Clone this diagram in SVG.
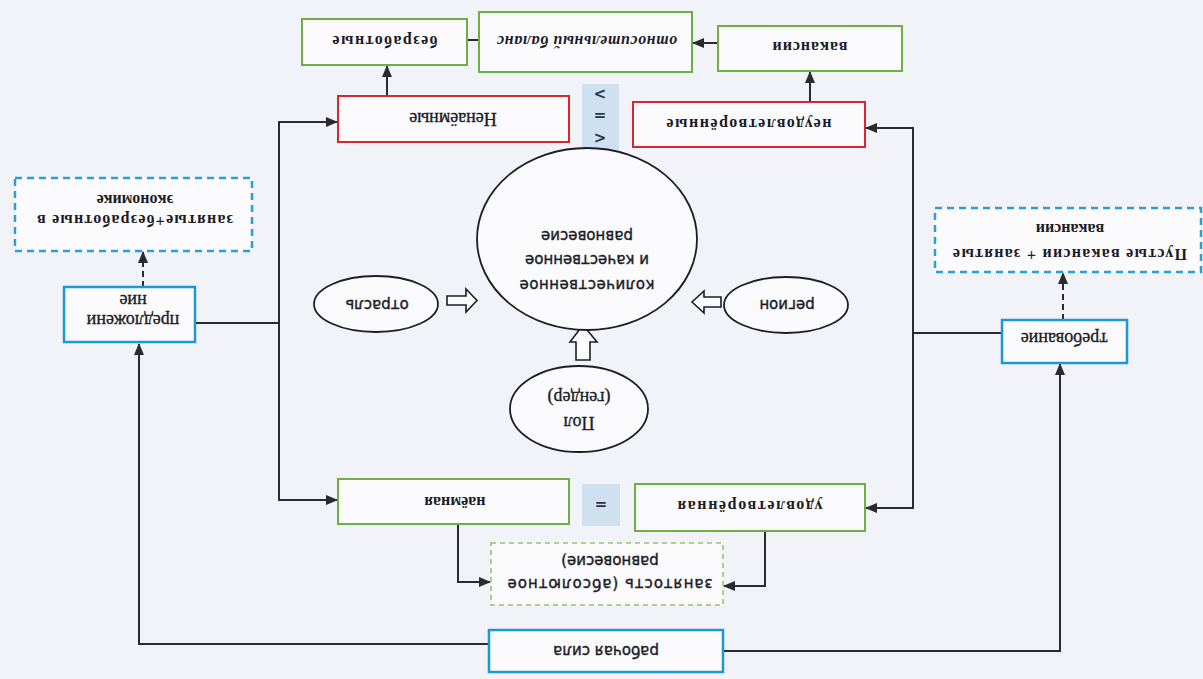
<svg xmlns="http://www.w3.org/2000/svg" width="1203" height="679" viewBox="0 0 1203 679">
<style>
.bg{fill:#f2f3f8}
.box{fill:#fbfbfd}
.g{stroke:#6fae45;stroke-width:2}
.r{stroke:#d8262e;stroke-width:2}
.b{stroke:#1b98d5;stroke-width:2.5}
.bd{stroke:#2a9fd6;stroke-width:2.5;stroke-dasharray:7 5}
.gd{stroke:#9cc26b;stroke-width:1.6;stroke-dasharray:5 4}
.el{fill:#fbfbfd;stroke:#1d1d26;stroke-width:1.8}
.band{fill:#cfe0f0}
.hollow{fill:#fbfbfd;stroke:#1d1d26;stroke-width:1.6;stroke-linejoin:miter}
.c{fill:none;stroke:#2a2a33;stroke-width:2}
.cd{fill:none;stroke:#2a2a33;stroke-width:2;stroke-dasharray:6 4}
text{fill:#1c1c28;text-anchor:middle;dominant-baseline:central}
.sb{font-family:"Liberation Serif",serif;font-weight:bold;font-size:16px}
.sr{font-family:"Liberation Serif",serif;font-size:18px;stroke:#1c1c28;stroke-width:0.35}
.si{font-family:"Liberation Serif",serif;font-weight:bold;font-style:italic;font-size:16px}
.ss{font-family:"DejaVu Sans",sans-serif;font-size:15px;stroke:#1c1c28;stroke-width:0.4}
.sym{font-family:"DejaVu Sans",sans-serif;font-weight:bold;font-size:15px;fill:#2b3444}
</style>
<defs>
<marker id="ah" markerUnits="userSpaceOnUse" markerWidth="12" markerHeight="10" refX="11" refY="5" orient="auto">
<path d="M0,0 L12,5 L0,10 Z" fill="#2a2a33"/>
</marker>
</defs>
<rect class="bg" x="0" y="0" width="1203" height="679"/>

<g id="connectors">
<line class="c" x1="467" y1="40" x2="492" y2="40" marker-end="url(#ah)"/>
<line class="c" x1="718" y1="43" x2="693" y2="43" marker-end="url(#ah)"/>
<line class="c" x1="387" y1="96" x2="387" y2="66" marker-end="url(#ah)"/>
<line class="c" x1="810" y1="102" x2="810" y2="72" marker-end="url(#ah)"/>
<line class="c" x1="195" y1="323" x2="279" y2="323"/>
<path class="c" d="M279,323 V122 H337" marker-end="url(#ah)"/>
<path class="c" d="M279,323 V500 H337" marker-end="url(#ah)"/>
<line class="c" x1="1002" y1="333" x2="913" y2="333"/>
<path class="c" d="M913,333 V128 H866" marker-end="url(#ah)"/>
<path class="c" d="M913,333 V508 H866" marker-end="url(#ah)"/>
<line class="cd" x1="143" y1="287" x2="143" y2="252" marker-end="url(#ah)"/>
<line class="cd" x1="1063" y1="320" x2="1063" y2="273" marker-end="url(#ah)"/>
<path class="c" d="M489,644 H139 V344" marker-end="url(#ah)"/>
<path class="c" d="M723,651 H1060 V364" marker-end="url(#ah)"/>
<path class="c" d="M458,524 V582 H490" marker-end="url(#ah)"/>
<path class="c" d="M765,531 V586 H724" marker-end="url(#ah)"/>
<polygon class="hollow" points="447,296 466,296 466,289 477,300.5 466,312 466,305 447,305"/>
<polygon class="hollow" points="721,297 704,297 704,291 692,302 704,313 704,307 721,307"/>
<polygon class="hollow" points="576,360 576,342 570,342 583,325 597,342 590,342 590,360"/>
</g>

<g id="bezrabotnye">
<rect class="box g" x="302" y="19" width="165" height="46"/>
<text class="sb" x="385" y="41" transform="rotate(180 385 41)" textLength="105">безработные</text>
</g>
<g id="balance">
<rect class="box g" x="479" y="12" width="213" height="60"/>
<text class="si" x="587" y="41" transform="rotate(180 587 41)" textLength="180">относительный баланс</text>
</g>
<g id="vakansii">
<rect class="box g" x="718" y="26" width="184" height="45"/>
<text class="sb" x="810" y="47" transform="rotate(180 810 47)" textLength="75">вакансии</text>
</g>
<g id="nenaemnye">
<rect class="box r" x="338" y="96" width="231" height="46"/>
<text class="sr" x="453" y="119" transform="rotate(180 453 119)">Ненаёмные</text>
</g>
<g id="compare-top">
<rect class="band" x="582" y="84" width="37" height="66"/>
<g transform="rotate(180 600 116)">
<text class="sym" x="600" y="94">&lt;</text>
<text class="sym" x="600" y="116">=</text>
<text class="sym" x="600" y="138">&gt;</text>
</g>
</g>
<g id="neudovl">
<rect class="box r" x="633" y="102" width="232" height="45"/>
<text class="sb" x="749" y="124" transform="rotate(180 749 124)" textLength="165">неудовлетворённые</text>
</g>
<g id="predlozhenie">
<rect class="box b" x="64" y="287" width="131" height="55"/>
<g transform="rotate(180 133 311)">
<text class="sr" x="133" y="301">предложени</text>
<text class="sr" x="133" y="321">ние</text>
</g>
</g>
<g id="zanyatye-bezrabotnye">
<rect class="box bd" x="15" y="178" width="237" height="73"/>
<g transform="rotate(180 135 210)">
<text class="sb" x="135" y="200" textLength="196">занятые+безработные в</text>
<text class="sb" x="135" y="220">экономике</text>
</g>
</g>
<g id="trebovanie">
<rect class="box b" x="1002" y="320" width="125" height="43"/>
<text class="sr" x="1064" y="339" transform="rotate(180 1064 339)">требование</text>
</g>
<g id="pustye">
<rect class="box bd" x="935" y="208" width="266" height="64"/>
<g transform="rotate(180 1070 242)">
<text class="sb" x="1070" y="229.5" textLength="234">Пустые вакансии + занятые</text>
<text class="sb" x="1070" y="254.5">вакансии</text>
</g>
</g>
<g id="ravnovesie">
<ellipse class="el" cx="587" cy="239" rx="110" ry="91"/>
<g transform="rotate(180 587 260)">
<text class="ss" x="587" y="235.5" textLength="135">количественное</text>
<text class="ss" x="587" y="260">и качественное</text>
<text class="ss" x="587" y="284.5">равновесие</text>
</g>
</g>
<g id="otrasl">
<ellipse class="el" cx="376" cy="304" rx="62" ry="28"/>
<text class="ss" x="377" y="305" transform="rotate(180 377 305)">отрасль</text>
</g>
<g id="region">
<ellipse class="el" cx="786" cy="305" rx="62" ry="28"/>
<text class="ss" x="787" y="305" transform="rotate(180 787 305)">регион</text>
</g>
<g id="pol">
<ellipse class="el" cx="579" cy="409" rx="69" ry="43"/>
<g transform="rotate(180 579 410)">
<text class="sr" x="579" y="397.5">Пол</text>
<text class="sr" x="579" y="422.5">(гендер)</text>
</g>
</g>
<g id="naemnaya">
<rect class="box g" x="338" y="479" width="231" height="45"/>
<text class="sb" x="455" y="502" transform="rotate(180 455 502)">наёмная</text>
</g>
<g id="compare-bottom">
<rect class="band" x="582" y="484" width="38" height="42"/>
<text class="sym" x="601" y="505" transform="rotate(180 601 505)">=</text>
</g>
<g id="udovl">
<rect class="box g" x="635" y="484" width="230" height="47"/>
<text class="sb" x="750" y="506" transform="rotate(180 750 506)" textLength="145">удовлетворённая</text>
</g>
<g id="zanyatost">
<rect class="box gd" x="491" y="543" width="232" height="62"/>
<g transform="rotate(180 610 572)">
<text class="ss" x="610" y="560.5" textLength="205">занятость (абсолютное</text>
<text class="ss" x="610" y="583.5">равновесие)</text>
</g>
</g>
<g id="rabochaya-sila">
<rect class="box b" x="489" y="630" width="234" height="42"/>
<text class="ss" x="606" y="651" transform="rotate(180 606 651)">рабочая сила</text>
</g>
</svg>
